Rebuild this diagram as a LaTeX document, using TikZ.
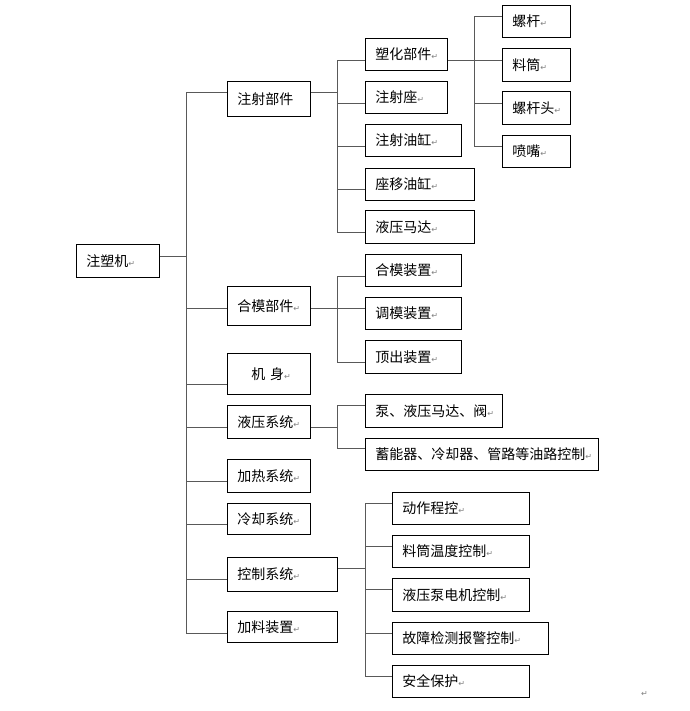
\documentclass[tikz,border=0pt]{standalone}
\usepackage{fontspec}
\usepackage{tikz}
\usetikzlibrary{calc}
\newfontfamily\cjk{Noto Sans CJK SC}
\newfontfamily\markfont{DejaVu Sans}
\newcommand{\retmark}{\rlap{\markfont\color{black!50}\fontsize{8}{9}\selectfont ↵}}

\begin{document}
\begin{tikzpicture}[
  x=1pt, y=-1pt,
  part/.style 2 args={draw, line width=0.8pt, anchor=north west, align=left,
                      text width=#1pt-20pt, minimum height=#2pt,
                      inner xsep=10pt, inner ysep=0pt,
                      font=\cjk\fontsize{14}{16}\selectfont},
  link/.style={draw=black!65, line width=1pt},
  parmark/.style={inner sep=0pt}
]
\useasboundingbox (0,0) rectangle (689,711);

% root and first level
\node[part={83}{33}] (root) at (76,244) {注塑机\retmark};
\node[part={83}{35}] (inj) at (227,81) {注射部件};
\node[part={83}{39}] (clamp) at (227,286) {合模部件\retmark};
\node[part={83}{41}] (frame) at (227,353) {\hspace*{14pt}机\ 身\retmark};
\node[part={83}{33}] (hyd) at (227,405) {液压系统\retmark};
\node[part={83}{33}] (heat) at (227,459) {加热系统\retmark};
\node[part={83}{31}] (cool) at (227,503) {冷却系统\retmark};
\node[part={110}{34}] (ctrl) at (227,557) {控制系统\retmark};
\node[part={110}{31}] (feed) at (227,611) {加料装置\retmark};

% injection unit
\node[part={82}{32}] (plast) at (365,38) {塑化部件\retmark};
\node[part={82}{32}] (seat) at (365,81) {注射座\retmark};
\node[part={96}{32}] (icyl) at (365,124) {注射油缸\retmark};
\node[part={109}{32}] (mcyl) at (365,168) {座移油缸\retmark};
\node[part={109}{33}] (motor) at (365,210) {液压马达\retmark};

\node[part={68}{32}] (screw) at (502,5) {螺杆\retmark};
\node[part={68}{33}] (barrel) at (502,48) {料筒\retmark};
\node[part={68}{33}] (shead) at (502,91) {螺杆头\retmark};
\node[part={68}{32}] (nozzle) at (502,135) {喷嘴\retmark};

% clamping unit
\node[part={96}{32}] (close) at (365,254) {合模装置\retmark};
\node[part={96}{32}] (adjust) at (365,297) {调模装置\retmark};
\node[part={96}{33}] (eject) at (365,340) {顶出装置\retmark};

% hydraulics
\node[part={137}{33}] (pump) at (365,394) {泵、液压马达、阀\retmark};
\node[part={233}{32}] (accum) at (365,438) {蓄能器、冷却器、管路等油路控制\retmark};

% control
\node[part={137}{32}] (prog) at (392,492) {动作程控\retmark};
\node[part={137}{32}] (temp) at (392,535) {料筒温度控制\retmark};
\node[part={137}{33}] (pmot) at (392,578) {液压泵电机控制\retmark};
\node[part={156}{32}] (fault) at (392,622) {故障检测报警控制\retmark};
\node[part={137}{32}] (safe) at (392,665) {安全保护\retmark};

\node[parmark] (endmark) at (641,694) {\retmark};

% trunks
\coordinate (t1) at (186,0);
\coordinate (t2) at (337,0);
\coordinate (t3) at (474,0);
\coordinate (t4) at (365,0);

\draw[link] ([yshift=4.5pt]root.east) -- ([yshift=4.5pt]root.east -| t1);
\draw[link] ([yshift=6.5pt]inj.west -| t1) -- ([yshift=-6.5pt]feed.west -| t1);
\foreach \n/\s in {inj/6.5, clamp/-2.5, frame/-10.5, hyd/-5.5, heat/-5.5, cool/-5.5, ctrl/-5, feed/-6.5}
  \draw[link] ([yshift=\s pt]\n.west -| t1) -- ([yshift=\s pt]\n.west);

\draw[link] ([yshift=6.5pt]inj.east) -- ([yshift=6.5pt]inj.east -| t2);
\draw[link] ([yshift=-6pt]plast.west -| t2) -- ([yshift=-5.5pt]motor.west -| t2);
\foreach \n/\s in {plast/-6, seat/-6, icyl/-6, mcyl/-5, motor/-5.5}
  \draw[link] ([yshift=\s pt]\n.west -| t2) -- ([yshift=\s pt]\n.west);

\draw[link] ([yshift=-6pt]plast.east) -- ([yshift=-6pt]plast.east -| t3);
\draw[link] ([yshift=5pt]screw.west -| t3) -- ([yshift=5pt]nozzle.west -| t3);
\foreach \n/\s in {screw/5, barrel/4.5, shead/4.5, nozzle/5}
  \draw[link] ([yshift=\s pt]\n.west -| t3) -- ([yshift=\s pt]\n.west);

\draw[link] ([yshift=-2.5pt]clamp.east) -- ([yshift=-2.5pt]clamp.east -| t2);
\draw[link] ([yshift=-6pt]close.west -| t2) -- ([yshift=-5.5pt]eject.west -| t2);
\foreach \n/\s in {close/-6, adjust/5, eject/-5.5}
  \draw[link] ([yshift=\s pt]\n.west -| t2) -- ([yshift=\s pt]\n.west);

\draw[link] ([yshift=-5.5pt]hyd.east) -- ([yshift=-5.5pt]hyd.east -| t2);
\draw[link] ([yshift=5.5pt]pump.west -| t2) -- ([yshift=6pt]accum.west -| t2);
\foreach \n/\s in {pump/5.5, accum/6}
  \draw[link] ([yshift=\s pt]\n.west -| t2) -- ([yshift=\s pt]\n.west);

\draw[link] ([yshift=6pt]ctrl.east) -- ([yshift=6pt]ctrl.east -| t4);
\draw[link] ([yshift=5pt]prog.west -| t4) -- ([yshift=5pt]safe.west -| t4);
\foreach \n/\s in {prog/5, temp/5, pmot/5.5, fault/5, safe/5}
  \draw[link] ([yshift=\s pt]\n.west -| t4) -- ([yshift=\s pt]\n.west);
\end{tikzpicture}
\end{document}
